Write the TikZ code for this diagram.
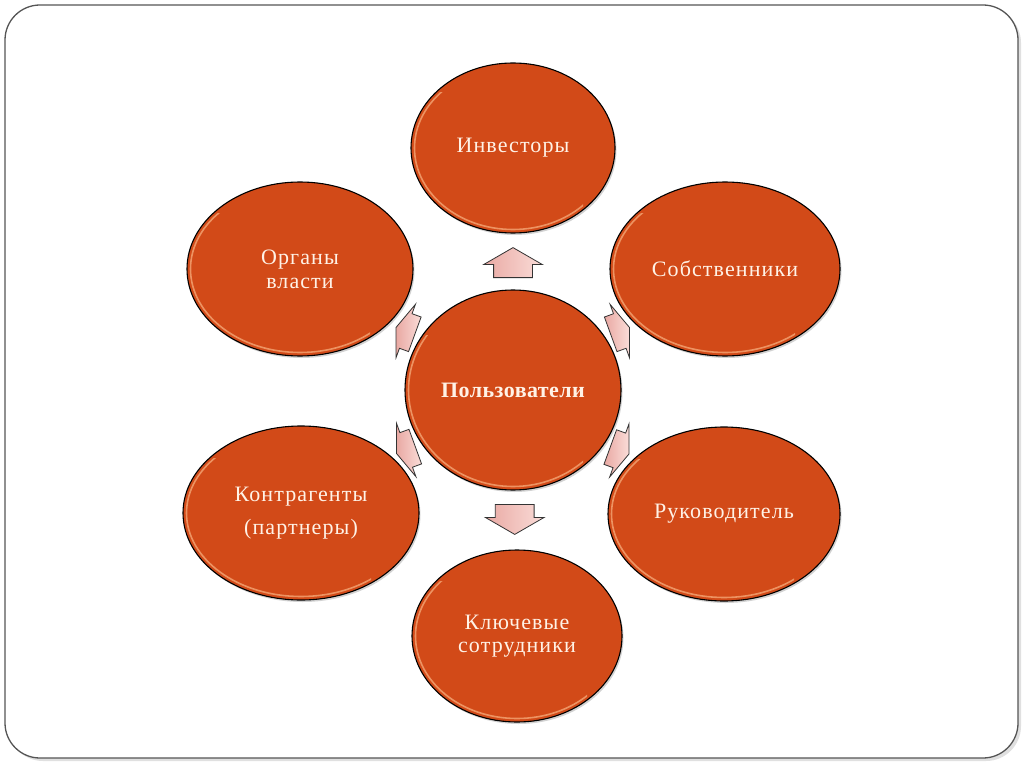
\documentclass[tikz,border=0pt]{standalone}
\usepackage{fontspec}
\setmainfont{Liberation Serif}
\newfontfamily\ovalfont[LetterSpace=5]{Liberation Serif}
\newfontfamily\ovalboldfont[LetterSpace=2]{Liberation Serif}
\usetikzlibrary{shapes.geometric,shapes.arrows,calc,shadows}
\definecolor{ovalfill}{HTML}{D24A18}
\definecolor{ovalrim}{HTML}{F2A070}
\definecolor{ovaltext}{HTML}{FFF2E6}
\definecolor{arrowfillA}{HTML}{E9A9A3}
\definecolor{arrowfillB}{HTML}{FADCD8}
\definecolor{framecol}{HTML}{555555}
\tikzset{
  oval/.style={ellipse, fill=ovalfill, draw=black, line width=1.1pt,
    drop shadow={shadow xshift=1.5pt, shadow yshift=-2pt, opacity=0.35},
    text=ovaltext, align=center, inner sep=0pt,
    font=\ovalfont\fontsize{22}{25}\selectfont},
  rim/.style={draw=ovalrim, line width=1.6pt, opacity=0.85},
  blockarrow/.style={single arrow, draw=black!80, line width=0.8pt,
    left color=arrowfillA, right color=arrowfillB,
    inner sep=0pt, text width=0pt, text height=38pt, text depth=0pt,
    single arrow head extend=10pt, single arrow tip angle=120,
    minimum height=30pt, anchor=tail},
  diagarrow/.style={blockarrow, minimum height=20pt, text height=36pt,
    single arrow tip angle=140},
}
\begin{document}
\begin{tikzpicture}[x=1pt,y=-1pt]
\useasboundingbox (0,0) rectangle (1024,767);
\fill[white] (0,0) rectangle (1024,767);
% frame
\fill[black!12, rounded corners=35pt] (8,8) rectangle (1021,761);
\draw[framecol, line width=1.3pt, fill=white, rounded corners=35pt] (5,5) rectangle (1018,758);

\node[oval, minimum width=204pt, minimum height=170pt] (inv) at (513,148) {Инвесторы};
\node[oval, minimum width=226pt, minimum height=174pt] (org) at (300,269) {Органы\\[-1pt]власти};
\node[oval, minimum width=230pt, minimum height=174pt] (sob) at (725,269) {Собственники};
\node[oval, minimum width=216pt, minimum height=200pt, font=\ovalboldfont\fontsize{22}{25}\selectfont\bfseries] (pol) at (513,390) {Пользователи};
\node[oval, minimum width=236pt, minimum height=174pt] (kon) at (301,513) {Контрагенты\\[8pt](партнеры)};
\node[oval, minimum width=232pt, minimum height=174pt] (ruk) at (724,514) {Руководитель};
\node[oval, minimum width=210pt, minimum height=172pt] (klu) at (517,636) {Ключевые\\[-2pt]сотрудники};

% inner light rims (left and bottom)
\foreach \n/\rx/\ry in {inv/102/85,org/113/87,sob/115/87,pol/108/100,kon/118/87,ruk/116/87,klu/105/86}{
  \begin{scope}
    \clip ($(\n.center)+(-300,-55)$) rectangle ($(\n.center)+(70,300)$);
    \draw[rim] (\n.center) ellipse[x radius=\rx-3.5, y radius=\ry-3.5];
  \end{scope}
}

% block arrows from the centre outwards
\coordinate (m1) at ($(pol.north)!0.5!(inv.south)$);
\coordinate (m2) at ($(pol.center)!0.5!(sob.center)$);
\coordinate (m3) at ($(pol.center)!0.5!(ruk.center)$);
\coordinate (m4) at ($(pol.south)!0.5!(klu.north)$);
\coordinate (m5) at ($(pol.center)!0.5!(kon.center)$);
\coordinate (m6) at ($(pol.center)!0.5!(org.center)$);
\node[blockarrow, rotate=90] (a1) at ($(m1)!-16.5pt!(inv)$) {};
\node[diagarrow, rotate=20] (a2) at ($(m2)!-10pt!(sob)$) {};
\node[diagarrow, rotate=-20] (a3) at ($(m3)!-10pt!(ruk)$) {};
\node[blockarrow, rotate=-90] (a4) at ($(m4)!-16pt!(klu)$) {};
\node[diagarrow, rotate=200] (a5) at ($(m5)!-10pt!(kon)$) {};
\node[diagarrow, rotate=160] (a6) at ($(m6)!-10pt!(org)$) {};
\end{tikzpicture}
\end{document}
